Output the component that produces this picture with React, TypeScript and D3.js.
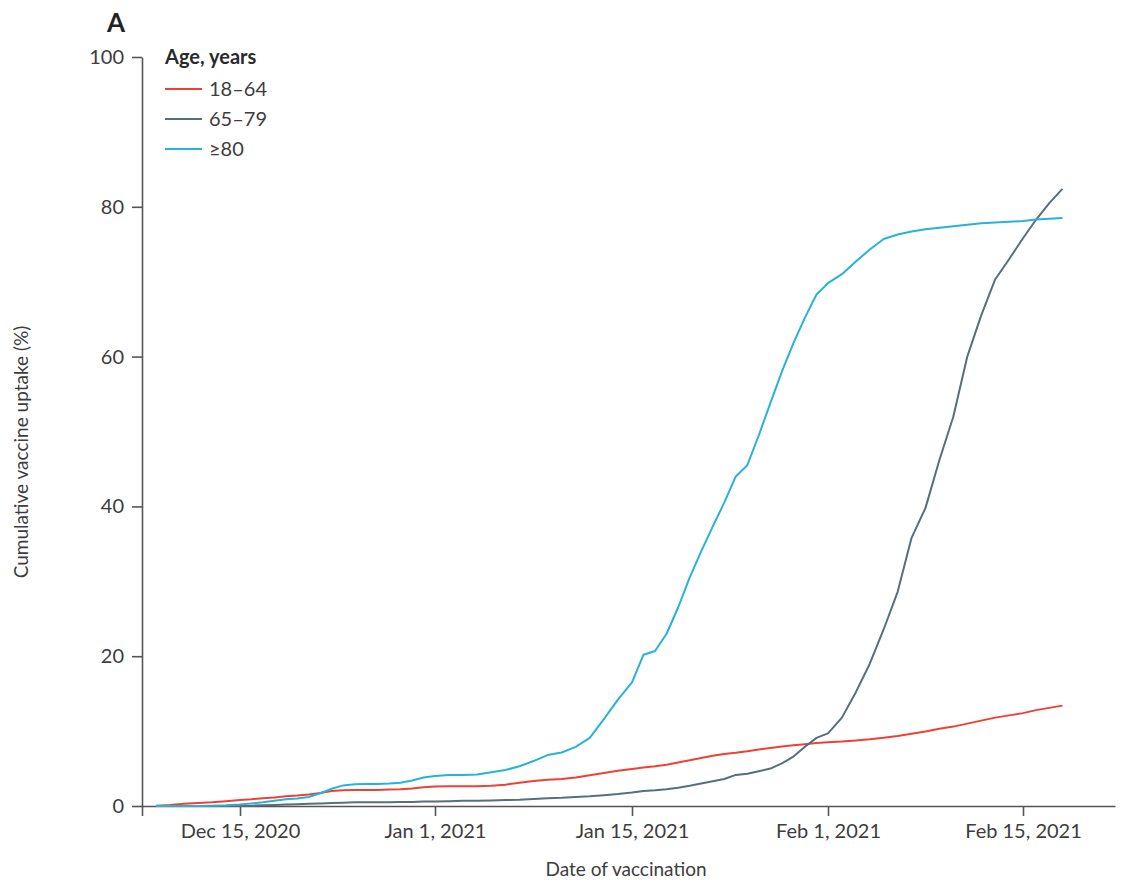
import React, { useEffect, useRef } from "react"
import * as d3 from "d3"

// daily dates, Dec 9 2020 .. Feb 18 2021
const dayLabels = [
  "2020-12-09", "2020-12-10", "2020-12-11", "2020-12-12", "2020-12-13", "2020-12-14", "2020-12-15",
  "2020-12-16", "2020-12-17", "2020-12-18", "2020-12-19", "2020-12-20", "2020-12-21", "2020-12-22",
  "2020-12-23", "2020-12-24", "2020-12-25", "2020-12-26", "2020-12-27", "2020-12-28", "2020-12-29",
  "2020-12-30", "2020-12-31", "2021-01-01", "2021-01-02", "2021-01-03", "2021-01-04", "2021-01-05",
  "2021-01-06", "2021-01-07", "2021-01-08", "2021-01-09", "2021-01-10", "2021-01-11", "2021-01-12",
  "2021-01-13", "2021-01-14", "2021-01-15", "2021-01-16", "2021-01-17", "2021-01-18", "2021-01-19",
  "2021-01-20", "2021-01-21", "2021-01-22", "2021-01-23", "2021-01-24", "2021-01-25", "2021-01-26",
  "2021-01-27", "2021-01-28", "2021-01-29", "2021-01-30", "2021-01-31", "2021-02-01", "2021-02-02",
  "2021-02-03", "2021-02-04", "2021-02-05", "2021-02-06", "2021-02-07", "2021-02-08", "2021-02-09",
  "2021-02-10", "2021-02-11", "2021-02-12", "2021-02-13", "2021-02-14", "2021-02-15", "2021-02-16",
  "2021-02-17", "2021-02-18",
]

const age18to64 = [
  0.05, 0.15, 0.3, 0.4, 0.5, 0.65, 0.8,
  0.9, 1.05, 1.15, 1.3, 1.4, 1.55, 1.75,
  2.0, 2.1, 2.15, 2.15, 2.15, 2.2, 2.25,
  2.35, 2.5, 2.6, 2.65, 2.65, 2.65, 2.7,
  2.85, 3.1, 3.35, 3.5, 3.6, 3.8, 4.1,
  4.4, 4.7, 4.95, 5.15, 5.3, 5.5, 5.8,
  6.1, 6.4, 6.7, 6.95, 7.1, 7.3, 7.55,
  7.75, 7.95, 8.1, 8.25, 8.4, 8.5, 8.6,
  8.75, 8.9, 9.1, 9.35, 9.65, 9.95, 10.3,
  10.6, 11.0, 11.4, 11.8, 12.1, 12.4, 12.8,
  13.1, 13.4,
]

const age65to79 = [
  0, 0, 0, 0, 0, 0, 0.02,
  0.05, 0.1, 0.15, 0.2, 0.25, 0.3, 0.35,
  0.4, 0.45, 0.5, 0.5, 0.5, 0.5, 0.55,
  0.55, 0.6, 0.6, 0.65, 0.7, 0.7, 0.75,
  0.8, 0.85, 0.95, 1.05, 1.1, 1.2, 1.3,
  1.45, 1.6, 1.8, 2.0, 2.1, 2.25, 2.45,
  2.7, 3.0, 3.3, 3.6, 4.15, 4.3, 4.65,
  5.0, 5.7, 6.6, 7.9, 9.1, 9.7, 11.8,
  15.2, 19.0, 23.6, 28.6, 35.8, 39.8, 46.2,
  52.0, 60.0, 65.5, 70.3, 73.0, 75.8, 78.3,
  80.5, 82.4,
]

const age80plus = [
  0, 0, 0, 0, 0.05, 0.1, 0.2,
  0.35, 0.5, 0.7, 0.9, 1.0, 1.2, 1.7,
  2.3, 2.75, 2.9, 2.95, 2.95, 3.0, 3.1,
  3.4, 3.8, 4.0, 4.15, 4.15, 4.2, 4.5,
  4.8, 5.3, 6.0, 6.8, 7.15, 7.9, 9.1,
  11.6, 14.2, 16.5, 20.2, 20.7, 23.0, 26.5,
  30.5, 34.0, 37.3, 40.5, 44.0, 45.5, 49.5,
  53.8, 58.0, 61.8, 65.2, 68.3, 69.8, 71.0,
  72.7, 74.3, 75.7, 76.3, 76.7, 77.0, 77.2,
  77.4, 77.6, 77.8, 77.9, 78.0, 78.1, 78.3,
  78.4, 78.5,
]

const seriesNames = ["18–64", "65–79", "≥80"]
const seriesColors = ["#ef4036", "#557079", "#29b2d7"]
const xTickDates = ["2020-12-15", "2021-01-01", "2021-01-15", "2021-02-01", "2021-02-15"]
const xTickLabels = ["Dec 15, 2020", "Jan 1, 2021", "Jan 15, 2021", "Feb 1, 2021", "Feb 15, 2021"]
const yTicks = [0, 20, 40, 60, 80, 100]

const W = 1121
const H = 884
const FONT = "Lato, 'Open Sans', sans-serif"
const TEXT = "#3d3d3d"

const App = () => {
  const ref = useRef<SVGSVGElement>(null)

  useEffect(() => {
    const svg = d3.select(ref.current)
    svg.selectAll("*").remove()

    const parse = d3.timeParse("%Y-%m-%d")
    const days = dayLabels.map((d) => parse(d) as Date)
    const tickDates = xTickDates.map((d) => parse(d) as Date)

    // tick marks in the original are evenly spaced, so map the axis piecewise
    const x = d3.scaleTime()
      .domain([parse("2020-12-08"), ...tickDates, parse("2021-02-22")] as Date[])
      .range([142, 240, 435, 632, 828, 1023, 1115])
    const y = d3.scaleLinear().domain([0, 100]).range([806, 57])

    const g = svg.append("g")

    // x axis
    const xAxis = d3.axisBottom(x)
      .tickValues([parse("2020-12-08") as Date, ...tickDates])
      .tickSize(10)
      .tickSizeOuter(0)
      .tickPadding(8)
      .tickFormat((d, i) => (i === 0 ? "" : xTickLabels[i - 1]))
    const gx = g.append("g").attr("transform", "translate(0,806)").call(xAxis)
    gx.select(".domain").attr("stroke", "#555").attr("stroke-width", 1.6)
    gx.selectAll(".tick line").attr("stroke", "#555").attr("stroke-width", 1.6)
    gx.selectAll(".tick text")
      .attr("fill", TEXT)
      .style("font-family", FONT)
      .style("font-size", "20px")

    // y axis
    const yAxis = d3.axisLeft(y)
      .tickValues(yTicks)
      .tickSize(10)
      .tickSizeOuter(0)
      .tickPadding(8)
    const gy = g.append("g").attr("transform", "translate(142,0)").call(yAxis)
    gy.select(".domain").attr("stroke", "#555").attr("stroke-width", 1.6)
    gy.selectAll(".tick line").attr("stroke", "#555").attr("stroke-width", 1.6)
    gy.selectAll(".tick text")
      .attr("fill", TEXT)
      .style("font-family", FONT)
      .style("font-size", "20px")

    // lines
    const allSeries = [age18to64, age65to79, age80plus]
    const line = d3.line<number>()
      .x((d, i) => x(days[i]))
      .y((d) => y(d))
    allSeries.forEach((vals, k) => {
      g.append("path")
        .attr("d", line(vals))
        .attr("fill", "none")
        .attr("stroke", seriesColors[k])
        .attr("stroke-width", 2)
        .attr("stroke-linejoin", "round")
    })

    // legend
    const lg = g.append("g")
    lg.append("text")
      .attr("x", 165).attr("y", 64)
      .attr("fill", "#2a2a2a")
      .style("font-family", FONT)
      .style("font-size", "20px")
      .style("font-weight", "bold")
      .text("Age, years")
    seriesNames.forEach((name, k) => {
      const ly = 89 + k * 30
      lg.append("line")
        .attr("x1", 165).attr("x2", 202)
        .attr("y1", ly).attr("y2", ly)
        .attr("stroke", seriesColors[k])
        .attr("stroke-width", 2)
      lg.append("text")
        .attr("x", 209).attr("y", ly)
        .attr("dy", "0.35em")
        .attr("fill", TEXT)
        .style("font-family", FONT)
        .style("font-size", "20px")
        .text(name)
    })

    // panel letter
    g.append("text")
      .attr("x", 107).attr("y", 32)
      .attr("fill", "#222")
      .style("font-family", FONT)
      .style("font-size", "26px")
      .style("font-weight", "bold")
      .text("A")

    // axis titles
    g.append("text")
      .attr("x", 626).attr("y", 876)
      .attr("text-anchor", "middle")
      .attr("fill", TEXT)
      .style("font-family", FONT)
      .style("font-size", "19px")
      .text("Date of vaccination")
    g.append("text")
      .attr("transform", "translate(28,452) rotate(-90)")
      .attr("text-anchor", "middle")
      .attr("fill", TEXT)
      .style("font-family", FONT)
      .style("font-size", "19px")
      .text("Cumulative vaccine uptake (%)")
  }, [])

  return (
    <svg
      ref={ref}
      width={W}
      height={H}
      style={{ position: "absolute", left: 0, top: 0, background: "#fff" }}
    />
  )
}

export default App
